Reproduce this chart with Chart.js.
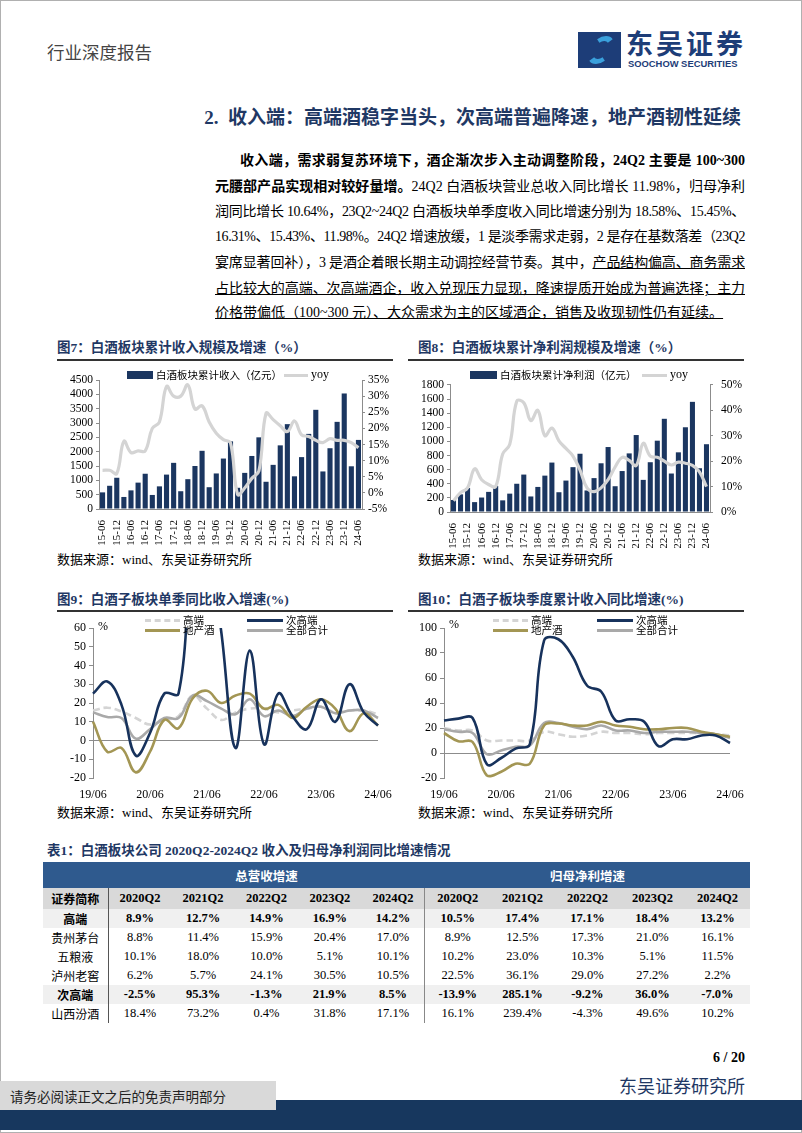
<!DOCTYPE html>
<html>
<head>
<meta charset="utf-8">
<script src="https://cdn.jsdelivr.net/npm/chart.js@4.4.0/dist/chart.umd.min.js"></script>
<style>
html,body{margin:0;padding:0;background:#fff;}
body{width:802px;height:1133px;position:relative;overflow:hidden;font-family:"Liberation Serif","Noto Sans CJK SC",serif;color:#000;}
.abs{position:absolute;white-space:nowrap;}
.cjk{font-family:"Noto Sans CJK SC",sans-serif;}
.navy{color:#1f3864;}
.pline{position:absolute;left:215px;width:530px;font-size:14px;line-height:18px;white-space:nowrap;text-align:justify;text-align-last:justify;}
.ctitle{position:absolute;font-size:13.5px;font-weight:bold;color:#1f3864;line-height:18px;}
.cline{position:absolute;height:2px;background:#333;}
.src{position:absolute;font-size:13px;line-height:16px;}
.lg{position:absolute;font-size:10.5px;line-height:12px;white-space:nowrap;}
.sw{position:absolute;}
.box{position:absolute;}
#tbl{position:absolute;left:43px;top:862px;width:707px;border-collapse:collapse;table-layout:fixed;font-size:12.5px;}
#tbl td{padding:0;text-align:center;white-space:nowrap;}
#tbl tr.h1 td{background:#2f5a8e;color:#fff;height:26px;font-weight:bold;font-family:"Noto Sans CJK SC",sans-serif;font-size:12.5px;}
#tbl tr.h2 td{background:#d9d9d9;height:21px;font-weight:bold;}
#tbl tr.r td{height:19px;}
#tbl tr.b td{font-weight:bold;background:#f0f0f0;}
#tbl td.first{border-right:1px solid #555;font-family:"Noto Sans CJK SC",sans-serif;font-size:12px;}
#tbl td.mid{border-right:1px solid #888;}
</style>
</head>
<body>
<div class="box" style="left:0;top:0;width:800px;height:1131px;border:1px solid #b0b0b0;"></div>

<!-- header -->
<div class="abs cjk" style="left:47px;top:40px;font-size:17.5px;line-height:24px;color:#444;">行业深度报告</div>
<div class="box" style="left:578px;top:32px;width:43px;height:36px;background:#1d3d78;"></div>
<div class="box" style="left:590px;top:36px;width:22px;height:28px;border:5px solid #3aa0dc;border-radius:12px;border-left-color:transparent;border-right-color:transparent;transform:skewX(-20deg);box-sizing:border-box;"></div>
<div class="abs cjk" style="left:626px;top:27px;font-size:27px;line-height:32px;font-weight:bold;color:#1d3d78;letter-spacing:3px;">东吴证券</div>
<div class="abs" style="left:628px;top:59px;font-family:'Liberation Sans',sans-serif;font-size:9.4px;line-height:10px;font-weight:bold;color:#1d3d78;">SOOCHOW SECURITIES</div>

<!-- heading -->
<div class="abs navy" style="right:61px;top:106px;font-size:19px;line-height:24px;font-weight:bold;">2.&nbsp;&nbsp;收入端：高端酒稳字当头，次高端普遍降速，地产酒韧性延续</div>

<!-- paragraph -->
<div class="pline fit" style="top:152px;left:240px;width:505px;"><b>收入端，需求弱复苏环境下，酒企渐次步入主动调整阶段，24Q2 主要是 100~300</b></div>
<div class="pline fit" style="top:178px;"><b>元腰部产品实现相对较好量增。</b>24Q2 白酒板块营业总收入同比增长 11.98%，归母净利</div>
<div class="pline fit" style="top:203px;">润同比增长 10.64%，23Q2~24Q2 白酒板块单季度收入同比增速分别为 18.58%、15.45%、</div>
<div class="pline fit" style="top:228px;">16.31%、15.43%、11.98%。24Q2 增速放缓，1 是淡季需求走弱，2 是存在基数落差（23Q2</div>
<div class="pline fit" style="top:254px;">宴席显著回补），3 是酒企着眼长期主动调控经营节奏。其中，<u>产品结构偏高、商务需求</u></div>
<div class="pline fit" style="top:280px;"><u>占比较大的高端、次高端酒企，收入兑现压力显现，降速提质开始成为普遍选择；主力</u></div>
<div class="pline" style="top:304px;text-align-last:left;"><u>价格带偏低（100~300 元）、大众需求为主的区域酒企，销售及收现韧性仍有延续。</u></div>

<!-- chart 7 -->
<div class="ctitle" style="left:57px;top:339px;">图7：白酒板块累计收入规模及增速（%）</div>
<div class="cline" style="left:57px;top:359px;width:336px;"></div>
<div style="position:absolute;left:40px;top:370px;width:360px;height:178px;"><canvas id="c7"></canvas></div>
<div class="sw" style="left:127px;top:371px;width:26px;height:8px;background:#1b3660;"></div>
<div class="lg cjk" style="left:156px;top:369px;">白酒板块累计收入（亿元）</div>
<div class="sw" style="left:284px;top:374px;width:24px;height:3px;background:#d4d4d4;"></div>
<div class="lg" style="left:311px;top:368px;font-size:12px;">yoy</div>
<div class="src" style="left:57px;top:552px;">数据来源：wind、东吴证券研究所</div>

<!-- chart 8 -->
<div class="ctitle" style="left:418px;top:339px;">图8：白酒板块累计净利润规模及增速（%）</div>
<div class="cline" style="left:408px;top:359px;width:336px;"></div>
<div style="position:absolute;left:405px;top:370px;width:345px;height:178px;"><canvas id="c8"></canvas></div>
<div class="sw" style="left:470px;top:371px;width:27px;height:8px;background:#1b3660;"></div>
<div class="lg cjk" style="left:500px;top:369px;">白酒板块累计净利润（亿元）</div>
<div class="sw" style="left:642px;top:374px;width:25px;height:3px;background:#d4d4d4;"></div>
<div class="lg" style="left:670px;top:368px;font-size:12px;">yoy</div>
<div class="src" style="left:418px;top:552px;">数据来源：wind、东吴证券研究所</div>

<!-- chart 9 -->
<div class="ctitle" style="left:57px;top:591px;">图9：白酒子板块单季同比收入增速(%)</div>
<div class="cline" style="left:57px;top:610px;width:336px;"></div>
<div style="position:absolute;left:40px;top:615px;width:360px;height:185px;"><canvas id="c9"></canvas></div>
<div class="abs" style="left:98px;top:619px;font-size:12px;line-height:14px;">%</div>
<div class="sw" style="left:145px;top:619px;width:35px;height:0;border-top:3px dashed #d4d4d4;"></div>
<div class="lg cjk" style="left:183px;top:614px;">高端</div>
<div class="sw" style="left:247px;top:619px;width:36px;height:3px;background:#17325c;"></div>
<div class="lg cjk" style="left:286px;top:614px;">次高端</div>
<div class="sw" style="left:145px;top:629px;width:35px;height:3px;background:#a39654;"></div>
<div class="lg cjk" style="left:183px;top:624px;">地产酒</div>
<div class="sw" style="left:247px;top:629px;width:36px;height:3px;background:#a9a9a9;"></div>
<div class="lg cjk" style="left:286px;top:624px;">全部合计</div>
<div class="src" style="left:57px;top:805px;">数据来源：wind、东吴证券研究所</div>

<!-- chart 10 -->
<div class="ctitle" style="left:418px;top:591px;">图10：白酒子板块季度累计收入同比增速(%)</div>
<div class="cline" style="left:408px;top:610px;width:336px;"></div>
<div style="position:absolute;left:405px;top:615px;width:345px;height:185px;"><canvas id="c10"></canvas></div>
<div class="abs" style="left:449px;top:617px;font-size:12px;line-height:14px;">%</div>
<div class="sw" style="left:493px;top:619px;width:35px;height:0;border-top:3px dashed #d4d4d4;"></div>
<div class="lg cjk" style="left:531px;top:614px;">高端</div>
<div class="sw" style="left:597px;top:619px;width:36px;height:3px;background:#17325c;"></div>
<div class="lg cjk" style="left:636px;top:614px;">次高端</div>
<div class="sw" style="left:493px;top:629px;width:35px;height:3px;background:#a39654;"></div>
<div class="lg cjk" style="left:531px;top:624px;">地产酒</div>
<div class="sw" style="left:597px;top:629px;width:36px;height:3px;background:#a9a9a9;"></div>
<div class="lg cjk" style="left:636px;top:624px;">全部合计</div>
<div class="src" style="left:418px;top:805px;">数据来源：wind、东吴证券研究所</div>

<!-- table -->
<div class="ctitle" style="left:47px;top:842px;">表1：白酒板块公司 2020Q2-2024Q2 收入及归母净利润同比增速情况</div>
<table id="tbl"></table>

<!-- footer -->
<div class="abs" style="right:57px;top:1049px;font-size:14px;line-height:18px;font-weight:bold;">6 / 20</div>
<div class="abs cjk" style="right:57px;top:1073px;font-size:18px;line-height:24px;color:#1f3864;">东吴证券研究所</div>
<div class="box" style="left:0;top:1100px;width:802px;height:30px;background:#17375e;"></div>
<div class="box" style="left:0;top:1081px;width:276px;height:29px;background:#d9d9d9;"></div>
<div class="abs cjk" style="left:10px;top:1086px;font-size:13.5px;line-height:20px;color:#222;">请务必阅读正文之后的免责声明部分</div>

<script>
// ---------- data ----------
const quarters = ['15-06','15-09','15-12','16-03','16-06','16-09','16-12','17-03','17-06','17-09','17-12','18-03','18-06','18-09','18-12','19-03','19-06','19-09','19-12','20-03','20-06','20-09','20-12','21-03','21-06','21-09','21-12','22-03','22-06','22-09','22-12','23-03','23-06','23-09','23-12','24-03','24-06'];
const revenue = [580,810,1090,420,650,920,1230,490,790,1200,1610,620,1040,1500,2030,760,1240,1760,2360,740,1260,1850,2500,950,1540,2220,2960,1140,1810,2620,3460,1310,2120,3040,4030,1490,2410];
const revenueYoy = [7,7,6,16,12.5,13,13,20,22,33,30,30,33.5,26,27,22,18.5,16.5,15.5,-0.5,1.5,4.5,6.8,24.7,22.7,20.8,19,22.3,18,17.5,16.3,15.6,16.8,16.3,16.3,15.6,14];
const profit = [170,250,340,140,205,285,370,165,260,400,530,220,355,515,700,280,445,635,825,305,480,690,920,365,580,830,1090,455,705,1010,1320,545,845,1200,1560,620,960];
const profitYoy = [4.4,7.6,9.5,17,12.7,10.8,10,22.8,26.6,43.6,43,36,40,30,33,28,25,22,16.5,9.5,8,9.5,12.7,17.7,21.5,20.3,18.3,27,22,21.5,20,18.5,19.6,19.2,18.3,15.8,10];

const subQuarters = ['19/06','19/09','19/12','20/03','20/06','20/09','20/12','21/03','21/06','21/09','21/12','22/03','22/06','22/09','22/12','23/03','23/06','23/09','23/12','24/03','24/06'];
const yearLabels = ['19/06','20/06','21/06','22/06','23/06','24/06'];
// Fig 9: single-quarter yoy revenue growth (%)
const qHigh  = [16,17.5,15.5,12,8.5,11,13,24,17,11,15,17,17,15,16,17,18,15,16,16,14];
const qSub   = [25,31.5,19,-8,4,25,25,95,110,58,-4,48,-2,25,13,6,22,10,30,15,8];
const qLocal = [10,-6,-4,-17,-6,11,6.5,22.5,26.5,20,24,25,17,19,12,18,22,17,5,14.5,8];
const qAll   = [15,12.5,12,1,6,12,12,24,21,17,14,22,13,16,13,17,18,14.5,16,16,12];
// Fig 10: cumulative yoy revenue growth (%)
const cHigh  = [20,18,18,10,10,10,10,17,15,13,14,17,16,16,15,16,16,16,16,15,14];
const cSub   = [26,27.5,28,-9,-4,3.5,7,90,91,77,54,49,26,27,25,5.5,11,11,14,14,8];
const cLocal = [16,9.4,8.8,-18,-15,-8.6,-8.6,22,23.6,22,22,25,22,21,19,19,20,20,17,15,13];
const cAll   = [19,17,16,-1,2,5,6,24,24,21,19,22,18,18,16,17,17,17,16,15,12];

// Table 1
const tablePeriods = ['2020Q2','2021Q2','2022Q2','2023Q2','2024Q2'];
const tableNames = ['高端','贵州茅台','五粮液','泸州老窖','次高端','山西汾酒'];
const tableBold  = [true,false,false,false,true,false];
const tableRevenue = [
  ['8.9%','12.7%','14.9%','16.9%','14.2%'],
  ['8.8%','11.4%','15.9%','20.4%','17.0%'],
  ['10.1%','18.0%','10.0%','5.1%','10.1%'],
  ['6.2%','5.7%','24.1%','30.5%','10.5%'],
  ['-2.5%','95.3%','-1.3%','21.9%','8.5%'],
  ['18.4%','73.2%','0.4%','31.8%','17.1%']
];
const tableProfit = [
  ['10.5%','17.4%','17.1%','18.4%','13.2%'],
  ['8.9%','12.5%','17.3%','21.0%','16.1%'],
  ['10.2%','23.0%','10.3%','5.1%','11.5%'],
  ['22.5%','36.1%','29.0%','27.2%','2.2%'],
  ['-13.9%','285.1%','-9.2%','36.0%','-7.0%'],
  ['16.1%','239.4%','-4.3%','49.6%','10.2%']
];

// ---------- table ----------
(function(){
  const t = document.getElementById('tbl');
  let h = '<colgroup><col style="width:65px">';
  for(let i=0;i<5;i++) h += '<col style="width:63.4px">';
  for(let i=0;i<5;i++) h += '<col style="width:65px">';
  h += '</colgroup>';
  h += '<tr class="h1"><td></td><td colspan="5">总营收增速</td><td colspan="5">归母净利增速</td></tr>';
  h += '<tr class="h2"><td class="first" style="font-weight:bold">证券简称</td>';
  tablePeriods.forEach((p,i)=>{ h += '<td'+(i===4?' class="mid"':'')+'>'+p+'</td>'; });
  tablePeriods.forEach(p=>{ h += '<td>'+p+'</td>'; });
  h += '</tr>';
  tableNames.forEach((n,r)=>{
    h += '<tr class="r'+(tableBold[r]?' b':'')+'"><td class="first"'+(tableBold[r]?' style="font-weight:bold"':'')+'>'+n+'</td>';
    tableRevenue[r].forEach((v,i)=>{ h += '<td'+(i===4?' class="mid"':'')+'>'+v+'</td>'; });
    tableProfit[r].forEach(v=>{ h += '<td>'+v+'</td>'; });
    h += '</tr>';
  });
  t.innerHTML = h;
})();

// ---------- paragraph fit ----------
document.querySelectorAll('.pline.fit').forEach(el=>{
  const target = el.clientWidth;
  el.style.display='inline-block';
  el.style.width='auto';
  const w = el.scrollWidth;
  el.style.display='';
  el.style.width=target+'px';
  if (w > target) {
    const n = el.textContent.length;
    el.style.letterSpacing = ((target - w - 2)/n).toFixed(3)+'px';
  }
});

// ---------- charts ----------
Chart.defaults.font.family = "'Liberation Serif','Noto Sans CJK SC',serif";
Chart.defaults.font.size = 12;
Chart.defaults.color = '#000';
Chart.defaults.animation = false;

const axisGrey = '#8c8c8c';
const navy = '#1b3660';

function comboChart(id, labels, bars, barLabel, yoy, yMax, yStep, y1Min, y1Max, y1Step, sizes){
  return new Chart(document.getElementById(id), {
    data: {
      labels: labels,
      datasets: [
        {type:'line', label:'yoy', data:yoy, yAxisID:'y1', borderColor:'#d4d4d4', borderWidth:3.2, pointRadius:0, tension:0.4, order:0},
        {type:'bar', label:barLabel, data:bars, yAxisID:'y', backgroundColor:navy, barPercentage:0.72, categoryPercentage:1, order:1}
      ]
    },
    options: {
      responsive:true, maintainAspectRatio:false, animation:false,
      layout:{padding:{top:10,left:0,right:0,bottom:0}},
      plugins:{legend:{display:false}, tooltip:{enabled:false}},
      scales:{
        x:{offset:true, grid:{display:false}, border:{display:true,color:axisGrey},
           ticks:{autoSkip:false, minRotation:90, maxRotation:90, padding:3, font:{size:11},
                  callback:(v,i)=> i%2===0 ? labels[i] : ''},
           afterFit:s=>{s.height=sizes.xh;}},
        y:{position:'left', min:0, max:yMax,
           ticks:{stepSize:yStep, padding:3, autoSkip:false, font:{size:11.5}, callback:v=>String(v)},
           grid:{drawOnChartArea:false, tickLength:3, color:axisGrey}, border:{color:axisGrey},
           afterFit:s=>{s.width=sizes.yw;}},
        y1:{position:'right', min:y1Min, max:y1Max,
           ticks:{stepSize:y1Step, padding:sizes.rp, autoSkip:false, font:{size:11.5}, callback:v=>v+'%'},
           grid:{drawOnChartArea:false, tickLength:3, color:axisGrey}, border:{color:axisGrey},
           afterFit:s=>{s.width=sizes.rw;}}
      }
    }
  });
}

comboChart('c7', quarters, revenue, '白酒板块累计收入（亿元）', revenueYoy, 4500, 500, -5, 35, 5, {xh:39, yw:59, rw:38, rp:3});
comboChart('c8', quarters, profit, '白酒板块累计净利润（亿元）', profitYoy, 1800, 200, 0, 50, 10, {xh:36, yw:45, rw:40, rp:8});

function segChart(id, hi, sub, loc, all, yMin, yMax, yStep, sizes){
  const ds = (label, data, color, order, dash) => ({
    label, data, borderColor:color, borderWidth:2.6, pointRadius:0, tension:0.4, order,
    borderDash: dash || [], fill:false
  });
  return new Chart(document.getElementById(id), {
    type:'line',
    data:{
      labels: subQuarters,
      datasets:[
        ds('高端', hi, '#d4d4d4', 3, [7,4]),
        ds('全部合计', all, '#a9a9a9', 2),
        ds('地产酒', loc, '#a39654', 1),
        ds('次高端', sub, '#17325c', 0)
      ]
    },
    options:{
      responsive:true, maintainAspectRatio:false, animation:false,
      layout:{padding:{top:sizes.pt, left:0, right:sizes.pr, bottom:0}},
      plugins:{legend:{display:false}, tooltip:{enabled:false}},
      scales:{
        x:{offset:false, grid:{display:false}, border:{display:false},
           ticks:{autoSkip:false, maxRotation:0, minRotation:0, padding:2,
                  callback:(v,i)=> yearLabels.includes(subQuarters[i]) ? subQuarters[i] : ''},
           afterFit:s=>{s.height=sizes.xh;}},
        y:{min:yMin, max:yMax, ticks:{stepSize:yStep, padding:3, autoSkip:false},
           grid:{color:c=> (c.tick && c.tick.value===0) ? axisGrey : 'rgba(0,0,0,0)', tickColor:axisGrey, tickLength:4},
           border:{color:axisGrey},
           afterFit:s=>{s.width=sizes.yw;}}
      }
    }
  });
}

segChart('c9', qHigh, qSub, qLocal, qAll, -20, 60, 10, {pt:13, pr:22, xh:22, yw:53});
segChart('c10', cHigh, cSub, cLocal, cAll, -20, 100, 20, {pt:13, pr:20, xh:22, yw:39});
</script>
</body>
</html>
